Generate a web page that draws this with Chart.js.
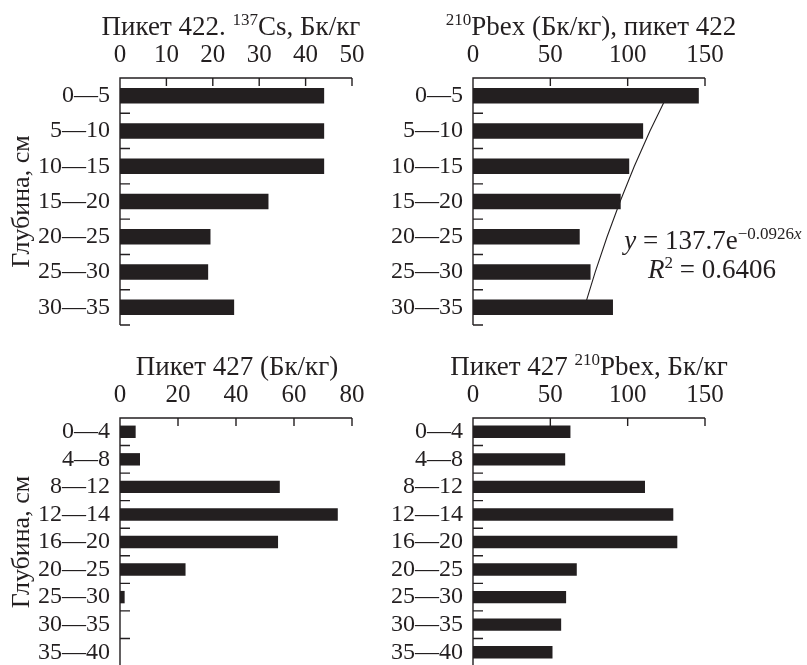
<!DOCTYPE html>
<html><head><meta charset="utf-8">
<script src="https://cdn.jsdelivr.net/npm/chart.js@4"></script>
<style>
html,body{margin:0;padding:0;background:#fff;overflow:hidden;width:807px;height:665px;}
.p{position:absolute;}
canvas{display:block;}
</style></head><body>
<div class="p" style="left:0;top:0"><canvas id="c1" width="400" height="330"></canvas></div>
<div class="p" style="left:380px;top:0"><canvas id="c2" width="427" height="330"></canvas></div>
<div class="p" style="left:0;top:340px"><canvas id="c3" width="400" height="330"></canvas></div>
<div class="p" style="left:380px;top:340px"><canvas id="c4" width="427" height="330"></canvas></div>
<script>
// ---- data ----
const depth422 = ['0—5','5—10','10—15','15—20','20—25','25—30','30—35'];
const cs422 = [44.0, 44.0, 44.0, 32.0, 19.5, 19.0, 24.6];
const pb422 = [146, 110, 101, 95.5, 69, 76, 90.5];
const pb422Trend = [125.5, 114.4, 104.3, 95.1, 86.7, 79.0, 72.0];
const depth427 = ['0—4','4—8','8—12','12—14','16—20','20—25','25—30','30—35','35—40'];
const cs427 = [5.4, 6.9, 55.1, 75.1, 54.5, 22.6, 1.6, 0, 0];
const pb427 = [63, 59.6, 111.2, 129.5, 132.1, 67.1, 60.2, 57, 51.4];
const ticksCs422 = [0, 10, 20, 30, 40, 50];
const ticksCs427 = [0, 20, 40, 60, 80];
const ticksPb = [0, 50, 100, 150];
const yTitle = 'Глубина, см';
const title1 = [{t:'Пикет 422. '},{t:'137',sup:true},{t:'Cs, Бк/кг'}];
const title2 = [{t:'210',sup:true},{t:'Pbex (Бк/кг), пикет 422'}];
const title3 = [{t:'Пикет 427 (Бк/кг)'}];
const title4 = [{t:'Пикет 427 '},{t:'210',sup:true},{t:'Pbex, Бк/кг'}];
const eqLine1 = [{t:'y',it:true},{t:' = 137.7e'},{t:'−0.0926',sup:true},{t:'x',sup:true,it:true}];
const eqLine2 = [{t:'R',it:true},{t:'2',sup:true},{t:' = 0.6406'}];

// ---- style ----
const INK = '#231f20';
const FAM = '"Liberation Serif", "Times New Roman", serif';
const FS_XTICK = 25, FS_YTICK = 24, FS_TITLE = 27, FS_YTITLE = 26, FS_NOTE = 27;

function fontStr(seg, size){
  const s = seg.sup ? Math.round(size*0.64) : size;
  return (seg.it ? 'italic ' : '') + s + 'px ' + FAM;
}
function drawRich(ctx, segs, cx, baseline, size){
  let total = 0;
  const widths = segs.map(s => { ctx.font = fontStr(s, size); const w = ctx.measureText(s.t).width; total += w; return w; });
  let x = cx - total/2;
  ctx.fillStyle = INK; ctx.textBaseline = 'alphabetic'; ctx.textAlign = 'left';
  segs.forEach((s,i) => {
    ctx.font = fontStr(s, size);
    ctx.fillText(s.t, x, s.sup ? baseline - size*0.36 : baseline);
    x += widths[i];
  });
}

const axesPlugin = {
  id: 'axes',
  afterDraw(chart, args, opts){
    const {ctx, chartArea:a} = chart;
    const x = chart.scales.x, y = chart.scales.y;
    ctx.save();
    ctx.strokeStyle = INK; ctx.lineWidth = 1.4;
    const x0 = x.getPixelForValue(x.min), x1 = x.getPixelForValue(x.max);
    ctx.beginPath();
    ctx.moveTo(x0, a.bottom); ctx.lineTo(x0, a.top); ctx.lineTo(x1, a.top);
    x.ticks.forEach(t => { const px = x.getPixelForValue(t.value); ctx.moveTo(px, a.top); ctx.lineTo(px, a.top + 8); });
    for (let i = 0; i < chart.data.labels.length; i++){
      const py = y.getPixelForValue(i + 0.5);
      ctx.moveTo(x0, py); ctx.lineTo(x0 + 10, py);
    }
    ctx.stroke();
    drawRich(ctx, opts.title, opts.titleX, opts.titleY, FS_TITLE);
    (opts.notes || []).forEach(n => drawRich(ctx, n.segs, n.x, n.y, FS_NOTE));
    ctx.restore();
  }
};

function makeChart(id, c){
  const datasets = [{
    type:'bar', data:c.values, backgroundColor:INK, borderWidth:0,
    barPercentage:c.barPct, categoryPercentage:1, order:1
  }];
  if (c.trend) datasets.push({
    type:'line', data:c.trend, indexAxis:'y', borderColor:INK, borderWidth:1.1,
    pointRadius:0, fill:false, tension:0, order:2
  });
  new Chart(document.getElementById(id), {
    type:'bar',
    data:{labels:c.labels, datasets},
    options:{
      indexAxis:'y', responsive:false, animation:false, events:[],
      layout:{padding:{left:0, top:0, right:c.padRight, bottom:c.padBottom}},
      plugins:{
        legend:{display:false}, tooltip:{enabled:false},
        axes:{title:c.title, titleX:c.titleX, titleY:c.titleY, notes:c.notes}
      },
      scales:{
        x:{
          position:'top', min:0, max:c.tickVals[c.tickVals.length-1],
          afterBuildTicks: s => { s.ticks = c.tickVals.map(v => ({value:v})); },
          ticks:{font:{family:FAM, size:FS_XTICK}, color:INK, padding:8, maxRotation:0, autoSkip:false},
          grid:{display:false, drawTicks:false}, border:{display:false},
          afterFit: s => { s.height = 78; s.paddingLeft = 0; s.paddingRight = 0; }
        },
        y:{
          ticks:{font:{family:FAM, size:FS_YTICK}, color:INK, padding:10, autoSkip:false},
          grid:{display:false, drawTicks:false}, border:{display:false},
          title:{display:!!c.yTitle, text:c.yTitle || '', font:{family:FAM, size:FS_YTITLE}, color:INK, padding:{top:7, bottom:0}},
          afterFit: s => { s.width = c.yWidth; s.paddingTop = 0; s.paddingBottom = 0; }
        }
      }
    },
    plugins:[axesPlugin]
  });
}

makeChart('c1', {labels:depth422, values:cs422, tickVals:ticksCs422, barPct:0.44,
  yWidth:120, padRight:48, padBottom:5, yTitle:yTitle, title:title1, titleX:231, titleY:35});
makeChart('c2', {labels:depth422, values:pb422, trend:pb422Trend, tickVals:ticksPb, barPct:0.44,
  yWidth:93, padRight:102, padBottom:5, title:title2, titleX:211, titleY:35,
  notes:[{segs:eqLine1, x:333, y:249},{segs:eqLine2, x:332, y:278}]});
makeChart('c3', {labels:depth427, values:cs427, tickVals:ticksCs427, barPct:0.45,
  yWidth:120, padRight:48, padBottom:4, yTitle:yTitle, title:title3, titleX:237, titleY:35});
makeChart('c4', {labels:depth427, values:pb427, tickVals:ticksPb, barPct:0.45,
  yWidth:93, padRight:102, padBottom:4, title:title4, titleX:209, titleY:35});
</script>
</body></html>
